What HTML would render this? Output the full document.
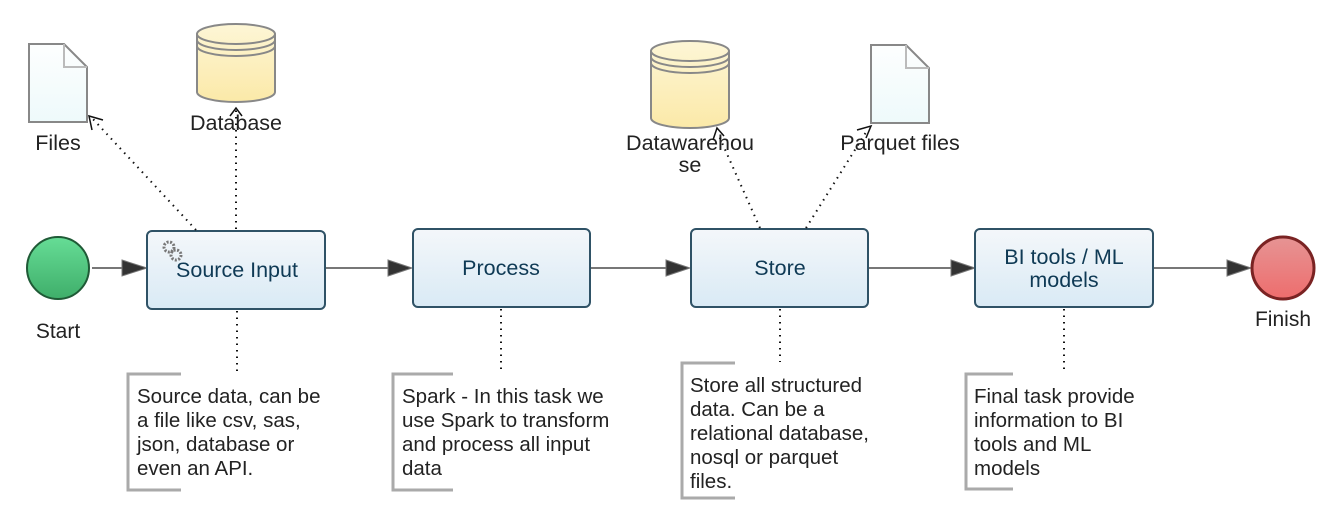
<!DOCTYPE html>
<html><head><meta charset="utf-8"><style>
html,body{margin:0;padding:0;background:#fff;}
svg{display:block;font-family:"Liberation Sans",Arial,sans-serif;}
</style></head><body>
<svg width="1342" height="532" viewBox="0 0 1342 532" xmlns="http://www.w3.org/2000/svg">
<defs>
<linearGradient id="task" x1="0" y1="0" x2="0" y2="1"><stop offset="0" stop-color="#f4f7fa"/><stop offset="1" stop-color="#d9eaf5"/></linearGradient>
<linearGradient id="green" x1="0" y1="0" x2="0" y2="1"><stop offset="0" stop-color="#66dd96"/><stop offset="1" stop-color="#3fae6a"/></linearGradient>
<linearGradient id="red" x1="0" y1="0" x2="0" y2="1"><stop offset="0" stop-color="#e69494"/><stop offset="1" stop-color="#ee6d6d"/></linearGradient>
<linearGradient id="cyl" x1="0" y1="0" x2="0" y2="1"><stop offset="0" stop-color="#fdf6d6"/><stop offset="1" stop-color="#fbe9a8"/></linearGradient>
<linearGradient id="doc" x1="0" y1="0" x2="0" y2="1"><stop offset="0" stop-color="#fdfefe"/><stop offset="1" stop-color="#eefafb"/></linearGradient>
</defs>

<g stroke="#777" stroke-width="2">
<line x1="92" y1="268" x2="125" y2="268"/>
<line x1="325" y1="268" x2="390" y2="268"/>
<line x1="591" y1="268" x2="668" y2="268"/>
<line x1="869" y1="268" x2="953" y2="268"/>
<line x1="1153" y1="268" x2="1228" y2="268"/>
</g>
<g fill="#333" stroke="#777" stroke-width="1">
<polygon points="122,260 147,268 122,276"/>
<polygon points="388,260 412,268 388,276"/>
<polygon points="666,260 690,268 666,276"/>
<polygon points="951,260 975,268 951,276"/>
<polygon points="1227,260 1251,268 1227,276"/>
</g>

<circle cx="58" cy="268" r="31" fill="url(#green)" stroke="#1f5a36" stroke-width="2"/>
<text x="58" y="338" font-size="21" text-anchor="middle" fill="#222">Start</text>
<circle cx="1283" cy="268" r="31" fill="url(#red)" stroke="#7a2323" stroke-width="3"/>
<text x="1283" y="326" font-size="21" text-anchor="middle" fill="#222">Finish</text>

<g stroke="#2f5266" stroke-width="2" fill="url(#task)">
<rect x="147" y="231" width="178" height="78" rx="5"/>
<rect x="413" y="229" width="177" height="78" rx="5"/>
<rect x="691" y="229" width="177" height="78" rx="5"/>
<rect x="975" y="229" width="178" height="78" rx="5"/>
</g>
<g fill="#0f3a55" font-size="21.5" text-anchor="middle">
<text x="237" y="277">Source Input</text>
<text x="501" y="275">Process</text>
<text x="780" y="275">Store</text>
<text x="1064" y="264">BI tools / ML</text>
<text x="1064" y="287">models</text>
</g>
<g fill="none" stroke="#777" stroke-width="3" stroke-dasharray="2 1.5">
<circle cx="169" cy="247" r="5"/>
<circle cx="176" cy="255" r="5"/>
</g>

<g stroke="#888" stroke-width="2">
<path d="M29,44 H64 L87,67 V122 H29 Z" fill="url(#doc)"/>
<path d="M64,44 V67 H87" fill="none" stroke="#bbb"/>
<path d="M871,45 H906 L929,68 V123 H871 Z" fill="url(#doc)"/>
<path d="M906,45 V68 H929" fill="none" stroke="#bbb"/>
</g>
<g stroke="#888" stroke-width="2" fill="url(#cyl)">
<path d="M197,34 V92 A39,10 0 0 0 275,92 V34 A39,10 0 0 0 197,34 Z"/>
<path d="M197,34 A39,10 0 0 0 275,34 M197,40 A39,10 0 0 0 275,40 M197,46 A39,10 0 0 0 275,46" fill="none"/>
<path d="M651,51 V118 A39,10 0 0 0 729,118 V51 A39,10 0 0 0 651,51 Z"/>
<path d="M651,51 A39,10 0 0 0 729,51 M651,57 A39,10 0 0 0 729,57 M651,63 A39,10 0 0 0 729,63" fill="none"/>
</g>
<g font-size="21.5" fill="#222" text-anchor="middle">
<text x="58" y="150">Files</text>
<text x="236" y="130">Database</text>
<text x="690" y="150">Datawarehou</text>
<text x="690" y="172">se</text>
<text x="900" y="150">Parquet files</text>
</g>

<g stroke="#111" stroke-width="2" stroke-dasharray="1.5 5" fill="none">
<line x1="196" y1="230" x2="92" y2="118"/>
<line x1="236" y1="229" x2="236" y2="110"/>
<line x1="760" y1="228" x2="719" y2="136"/>
<line x1="806" y1="228" x2="868" y2="129"/>
<line x1="237" y1="311" x2="237" y2="372"/>
<line x1="501" y1="309" x2="501" y2="372"/>
<line x1="780" y1="309" x2="780" y2="362"/>
<line x1="1064" y1="309" x2="1064" y2="372"/>
</g>
<g stroke="#111" stroke-width="1.5" fill="none">
<path d="M92,130 L89,116 L103,120"/>
<path d="M230,116 L236,108 L242,116"/>
<path d="M713,140 L717,128 L724,136"/>
<path d="M857,130 L871,126 L866,138"/>
</g>

<g stroke="#aaa" stroke-width="3" fill="none">
<path d="M181,374 H128 V490 H181"/>
<path d="M453,374 H393 V490 H453"/>
<path d="M735,363 H682 V498 H735"/>
<path d="M1013,374 H966 V489 H1013"/>
</g>
<g font-size="20.5" fill="#222">
<text x="137" y="403">Source data, can be</text>
<text x="137" y="427">a file like csv, sas,</text>
<text x="137" y="451">json, database or</text>
<text x="137" y="475">even an API.</text>
<text x="402" y="403">Spark - In this task we</text>
<text x="402" y="427">use Spark to transform</text>
<text x="402" y="451">and process all input</text>
<text x="402" y="475">data</text>
<text x="690" y="392">Store all structured</text>
<text x="690" y="416">data. Can be a</text>
<text x="690" y="440">relational database,</text>
<text x="690" y="464">nosql or parquet</text>
<text x="690" y="488">files.</text>
<text x="974" y="403">Final task provide</text>
<text x="974" y="427">information to BI</text>
<text x="974" y="451">tools and ML</text>
<text x="974" y="475">models</text>
</g>
</svg>
</body></html>
